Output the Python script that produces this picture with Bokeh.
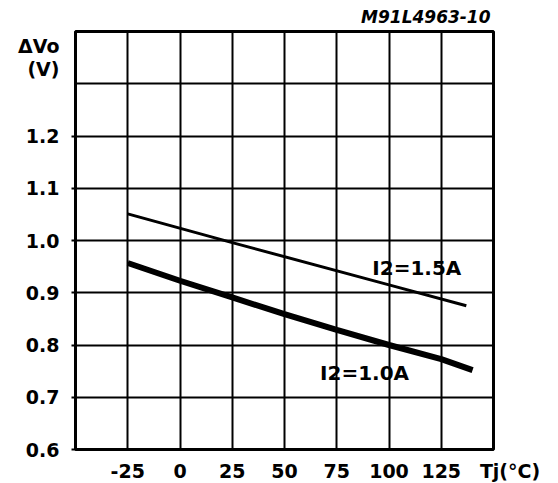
from bokeh.plotting import figure
from bokeh.models import FixedTicker, Label, LinearAxis, Title
from bokeh.embed import file_html
from bokeh.resources import INLINE

# data
x_ticks = [-25, 0, 25, 50, 75, 100, 125, 150]
x_tick_labels = ["-25", "0", "25", "50", "75", "100", "125", "\u00a0\u00a0\u00a0\u00a0\u00a0Tj(°C)"]
y_ticks = [0.6, 0.7, 0.8, 0.9, 1.0, 1.1, 1.2]
y_tick_labels = ["0.6", "0.7", "0.8", "0.9", "1.0", "1.1", "1.2"]
y_unit_pos = [1.329, 1.373]
y_unit_labels = ["(V)", "ΔVo"]
t_15 = [-25, 25, 100, 137]
v_15 = [1.051, 0.996, 0.915, 0.875]
t_10 = [-25, 0, 25, 50, 75, 100, 125, 140]
v_10 = [0.957, 0.923, 0.891, 0.859, 0.829, 0.800, 0.773, 0.752]
fig_code = "M91L4963-10"

FONT = "DejaVu Sans"

p = figure(frame_width=418, frame_height=418, x_range=(-50, 150), y_range=(0.6, 1.4),
           output_backend="svg", toolbar_location=None, y_axis_location=None,
           min_border_left=75, min_border_top=31, min_border_right=60, min_border_bottom=30)
p.background_fill_color = "white"
p.border_fill_color = "white"
p.outline_line_color = "black"
p.outline_line_width = 3
p.outline_line_alpha = 1

p.xgrid.ticker = FixedTicker(ticks=x_ticks[:-1])
p.ygrid.ticker = FixedTicker(ticks=[0.7, 0.8, 0.9, 1.0, 1.1, 1.2, 1.3])
for g in (p.xgrid, p.ygrid):
    g.grid_line_color = "black"
    g.grid_line_width = 2
    g.grid_line_alpha = 1

def style_labels(ax):
    ax.major_label_text_font = FONT
    ax.major_label_text_font_style = "bold"
    ax.major_label_text_font_size = "19px"
    ax.major_label_text_color = "black"
    ax.minor_tick_line_color = None
    ax.major_tick_in = 0

ax = p.xaxis[0]
ax.ticker = FixedTicker(ticks=x_ticks)
ax.major_label_overrides = {t: s for t, s in zip(x_ticks, x_tick_labels)}
style_labels(ax)
ax.axis_line_color = "black"
ax.axis_line_width = 2
ax.major_tick_out = 0
ax.major_label_standoff = 10

# inner y axis: tick stubs only
tick_axis = LinearAxis(ticker=FixedTicker(ticks=y_ticks),
                       major_label_overrides={t: "" for t in y_ticks})
tick_axis.axis_line_color = "black"
tick_axis.axis_line_width = 2
tick_axis.major_tick_line_color = "black"
tick_axis.major_tick_line_width = 2
tick_axis.major_tick_in = 0
tick_axis.major_tick_out = 4
tick_axis.minor_tick_line_color = None
tick_axis.major_label_standoff = 0
tick_axis.major_label_text_font_size = "1px"

# outer y axis: labels, incl. the quantity/unit
all_y = y_ticks + y_unit_pos
all_lab = y_tick_labels + y_unit_labels
label_axis = LinearAxis(ticker=FixedTicker(ticks=all_y),
                        major_label_overrides={t: s for t, s in zip(all_y, all_lab)})
style_labels(label_axis)
label_axis.axis_line_color = None
label_axis.major_tick_line_color = None
label_axis.major_tick_out = 0
label_axis.major_label_standoff = 12

p.left = [tick_axis, label_axis]

p.line(t_15, v_15, line_color="black", line_width=3)
p.line(t_10, v_10, line_color="black", line_width=6)

def lab(x, y, text):
    p.add_layout(Label(x=x, y=y, text=text, text_font=FONT, text_font_style="bold",
                       text_font_size="20px", text_align="left", text_baseline="middle",
                       text_color="black"))

lab(92, 0.948, "I2=1.5A")
lab(67, 0.747, "I2=1.0A")

p.add_layout(Title(text=fig_code, align="right", text_font=FONT, text_font_style="bold italic",
                   text_font_size="17px", text_color="black", offset=3, standoff=9), "above")

open("out.html", "w").write(file_html(p, INLINE))
